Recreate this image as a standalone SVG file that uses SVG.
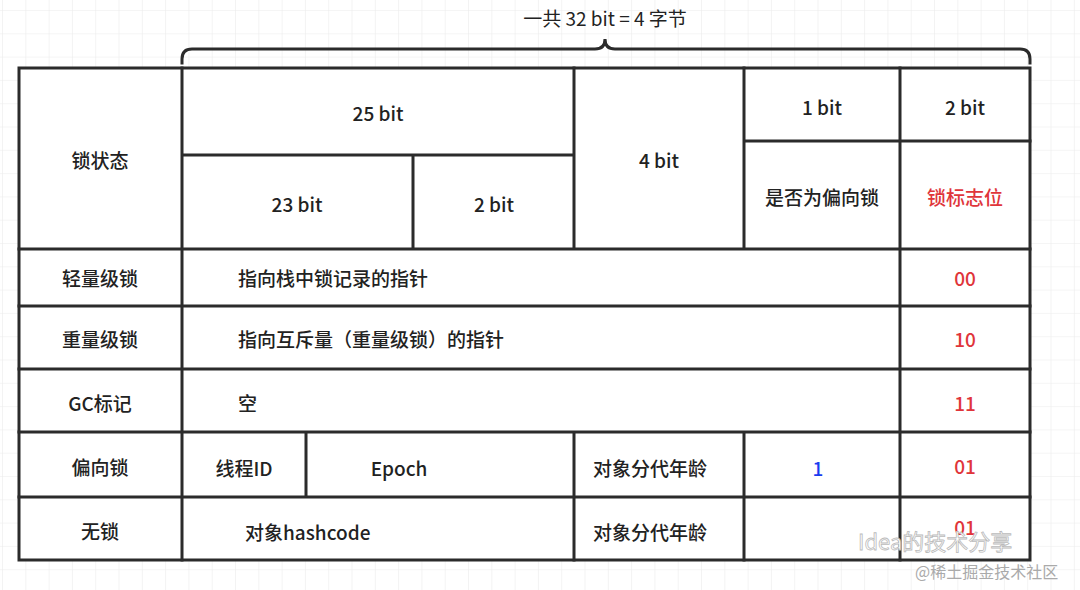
<svg xmlns="http://www.w3.org/2000/svg" width="1080" height="590" viewBox="0 0 1080 590">
<defs>
<pattern id="grid" width="23.3" height="23.3" patternUnits="userSpaceOnUse" x="3" y="11">
<path d="M23.3 0V23.3H0" fill="none" stroke="#ececec" stroke-width="1.2"/>
</pattern>
<style>
.t{font-family:"Noto Sans CJK SC","Noto Sans",sans-serif;font-size:19px;font-weight:500;fill:#222;text-anchor:middle;dominant-baseline:central}
.s{text-anchor:start}
.r{fill:#e0353a}
.b{fill:#1a3cf0}
.l{stroke:#2b2b2b;stroke-width:3;fill:none;stroke-linecap:square}
</style>
</defs>
<rect width="1080" height="590" fill="#fff"/>
<rect width="1080" height="590" fill="url(#grid)"/>
<rect x="19" y="68" width="1011" height="492" fill="#fff"/>
<text class="t" x="605" y="17" style="font-weight:400">一共 32 bit = 4 字节</text>
<g id="connectors">
<path class="l" d="M182 63V59Q182 49 192 49H595Q605 49 605 39Q605 49 615 49H1020Q1030 49 1030 59V63" stroke-width="2.5"/>
<path class="l" d="M19 68H1030V560H19Z"/>
<path class="l" d="M182 68V560M182 155H574M413 155V249M574 68V249M744 68V249M900 68V560M744 141H1030M19 249H1030M182 306H1030M19 306H182M19 369H1030M19 432H1030M19 497H1030M306 432V497M574 432V560M744 432V560"/>
</g>
<g id="n-header">
<text class="t" x="100" y="159">锁状态</text>
<text class="t" x="378" y="112">25 bit</text>
<text class="t" x="297" y="203">23 bit</text>
<text class="t" x="494" y="203">2 bit</text>
<text class="t" x="659" y="159">4 bit</text>
<text class="t" x="822" y="106">1 bit</text>
<text class="t" x="965" y="106">2 bit</text>
<text class="t" x="822" y="196">是否为偏向锁</text>
<text class="t r" x="965" y="196">锁标志位</text>
</g>
<g id="n-light">
<text class="t" x="100" y="277">轻量级锁</text>
<text class="t s" x="238" y="277">指向栈中锁记录的指针</text>
<text class="t r" x="965" y="277">00</text>
</g>
<g id="n-heavy">
<text class="t" x="100" y="338">重量级锁</text>
<text class="t s" x="238" y="338">指向互斥量（重量级锁）的指针</text>
<text class="t r" x="965" y="338">10</text>
</g>
<g id="n-gc">
<text class="t" x="100" y="402">GC标记</text>
<text class="t s" x="238" y="402">空</text>
<text class="t r" x="965" y="402">11</text>
</g>
<g id="n-biased">
<text class="t" x="100" y="466">偏向锁</text>
<text class="t" x="244" y="467">线程ID</text>
<text class="t" x="399" y="467">Epoch</text>
<text class="t" x="650" y="467">对象分代年龄</text>
<text class="t b" x="818" y="467">1</text>
<text class="t r" x="965" y="465">01</text>
</g>
<g id="n-nolock">
<text class="t" x="100" y="530">无锁</text>
<text class="t s" x="245" y="531">对象hashcode</text>
<text class="t" x="650" y="531">对象分代年龄</text>
<text class="t r" x="965" y="526">01</text>
</g>
<text x="858" y="550" font-family="Noto Sans CJK SC,sans-serif" font-size="22" fill="#fff" stroke="#bbb" stroke-width="0.8">Idea的技术分享</text>
<text x="915" y="578" font-family="Noto Sans CJK SC,sans-serif" font-size="16" fill="#aaa">@稀土掘金技术社区</text>
</svg>
